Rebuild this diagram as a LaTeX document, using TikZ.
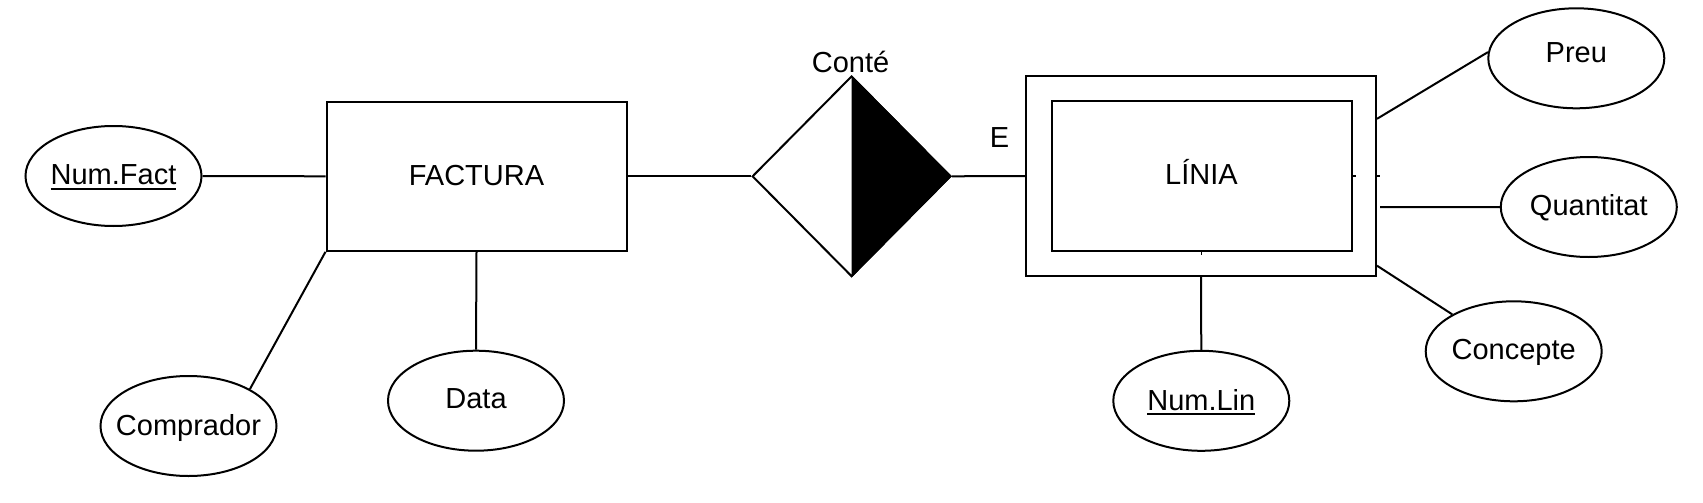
\documentclass[tikz,border=0pt]{standalone}
\usepackage{fontspec}
\setmainfont{Liberation Sans}
\usetikzlibrary{shapes.geometric}
\newcommand\ulx[1]{\setbox0\hbox{#1}\rlap{\rule[-2.4pt]{\wd0}{0.9pt}}\box0}
\newcommand\attrtext[2]{\makebox[0pt]{\raisebox{#1}{#2}}}
\begin{document}
\begin{tikzpicture}[x=0.5pt,y=-0.5pt, line width=1pt,
  every node/.style={font=\fontsize{14.5}{17}\selectfont},
  entity/.style={draw, rectangle, inner sep=0pt, minimum width=150pt, minimum height=75pt, text height=10.4pt, text depth=0pt},
  attr/.style={draw, ellipse, inner sep=0pt, minimum width=88pt, minimum height=50pt, text height=10.4pt, text depth=0pt},
  relship/.style={draw, diamond, inner sep=0pt, minimum width=99.3pt, minimum height=100.25pt},
  lbl/.style={inner sep=0pt, anchor=base},
  stub/.style={line width=0.6pt}]
\useasboundingbox (0,0) rectangle (1703,503);
% left side
\node[attr] (numfact) at (113.5,176) {\attrtext{0.75pt}{\ulx{Num.Fact}}};
\node[attr] (comprador) at (188.5,426) {\attrtext{0.4pt}{Comprador}};
\node[attr] (data) at (476,400.7) {\attrtext{1.5pt}{Data}};
\node[entity, minimum height=74.5pt] (factura) at (476.5,176.3) {\raisebox{0.6pt}{FACTURA}};
% relationship
\node[relship] (conte) at (851.5,176.3) {};
\fill (conte.north) -- (conte.east) -- (conte.south) -- cycle;
\node[lbl] (conteLbl) at (850.5,72.3) {Conté};
\node[lbl] (eLbl) at (999.5,147.3) {E};
% weak entity
\node[draw, rectangle, inner sep=0pt, minimum width=175pt, minimum height=100pt] (linouter) at (1201,176) {};
\node[entity] (linia) at (1201.5,176) {\raisebox{1pt}{LÍNIA}};
\node[attr] (numlin) at (1201.3,400.8) {\attrtext{0.5pt}{\ulx{Num.Lin}}};
\node[attr] (preu) at (1576.3,58.3) {\attrtext{3pt}{Preu}};
\node[attr] (quant) at (1588.8,207) {\attrtext{1.1pt}{Quantitat}};
\node[attr] (concepte) at (1513.7,351.3) {\attrtext{1.1pt}{Concepte}};
% connectors
\draw (numfact.east) -- (factura.west);
\draw (factura.south west) -- (comprador.31);
\draw (factura.south) -- (data.north);
\draw (factura.east) -- (conte.west);
\draw (conte.east) -- (linouter.west);
\draw (linouter.south) -- (numlin.north);
\draw (linouter.18) -- (preu.176);
\draw[shorten <=1.5pt] (linouter.-10) -- (quant.west);
\draw (linouter.-27.4) -- (concepte.149.7);
% small stubs
\draw[stub] (linia.south) -- ++(0,3);
\draw[stub] (linia.east) -- ++(3,0);
\draw[stub] (linouter.east) -- ++(3,0);
\end{tikzpicture}
\end{document}
